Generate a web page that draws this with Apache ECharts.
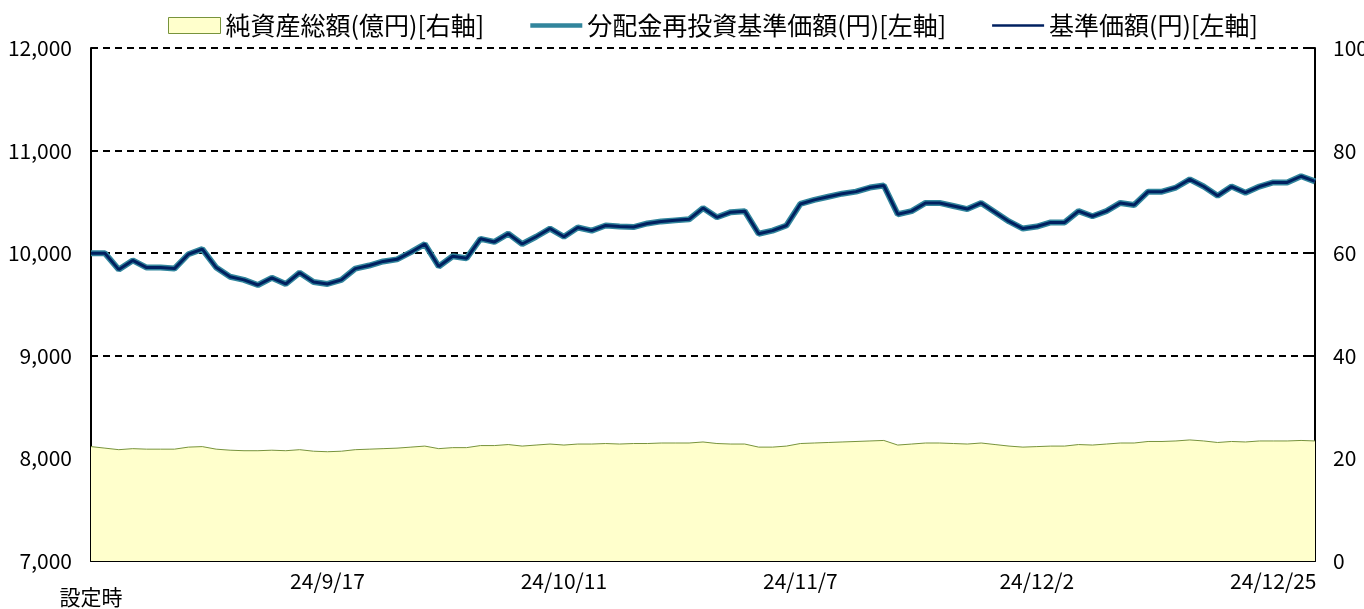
<!DOCTYPE html>
<html>
<head>
<meta charset="utf-8">
<script src="https://cdn.jsdelivr.net/npm/echarts@6/dist/echarts.min.js"></script>
<style>
  html, body { margin: 0; padding: 0; background: #fff; }
  #main { width: 1364px; height: 609px; }
</style>
</head>
<body>
<div id="main"></div>
<script>
// 日付（設定時 = 24/8/22）
var categories = [
  '設定時','24/8/23','24/8/26','24/8/27','24/8/28','24/8/29','24/8/30','24/9/2','24/9/3','24/9/4',
  '24/9/5','24/9/6','24/9/9','24/9/10','24/9/11','24/9/12','24/9/13','24/9/17','24/9/18','24/9/19',
  '24/9/20','24/9/24','24/9/25','24/9/26','24/9/27','24/9/30','24/10/1','24/10/2','24/10/3','24/10/4',
  '24/10/7','24/10/8','24/10/9','24/10/10','24/10/11','24/10/15','24/10/16','24/10/17','24/10/18','24/10/21',
  '24/10/22','24/10/23','24/10/24','24/10/25','24/10/28','24/10/29','24/10/30','24/10/31','24/11/1','24/11/5',
  '24/11/6','24/11/7','24/11/8','24/11/11','24/11/12','24/11/13','24/11/14','24/11/15','24/11/18','24/11/19',
  '24/11/20','24/11/21','24/11/22','24/11/25','24/11/26','24/11/27','24/11/28','24/11/29','24/12/2','24/12/3',
  '24/12/4','24/12/5','24/12/6','24/12/9','24/12/10','24/12/11','24/12/12','24/12/13','24/12/16','24/12/17',
  '24/12/18','24/12/19','24/12/20','24/12/23','24/12/24','24/12/25','24/12/26','24/12/27','24/12/30'
];

// 基準価額（円）
var navValues = [
  10000,10000,9840,9930,9860,9860,9850,9990,10040,9860,
  9770,9740,9690,9760,9700,9810,9720,9700,9740,9850,
  9880,9920,9940,10010,10090,9870,9970,9950,10140,10110,
  10190,10090,10160,10240,10160,10250,10220,10270,10260,10255,
  10290,10310,10320,10330,10440,10350,10400,10410,10190,10220,
  10270,10480,10520,10550,10580,10600,10640,10660,10380,10410,
  10490,10490,10460,10430,10490,10400,10310,10240,10260,10300,
  10300,10410,10360,10410,10490,10470,10600,10600,10640,10720,
  10650,10560,10650,10590,10650,10690,10690,10750,10700
];

// 分配金再投資基準価額（円） 分配なしのため基準価額と同じ
var reinvValues = navValues.slice();

// 純資産総額（億円）
var assetValues = [
  22.3,22.0,21.7,21.9,21.8,21.8,21.8,22.2,22.3,21.8,
  21.6,21.5,21.5,21.6,21.5,21.7,21.4,21.3,21.4,21.7,
  21.8,21.9,22.0,22.2,22.4,21.9,22.1,22.1,22.5,22.5,
  22.7,22.4,22.6,22.8,22.6,22.8,22.8,22.9,22.8,22.9,
  22.9,23.0,23.0,23.0,23.2,22.9,22.8,22.8,22.2,22.2,
  22.4,22.9,23.0,23.1,23.2,23.3,23.4,23.5,22.6,22.8,
  23.0,23.0,22.9,22.8,23.0,22.7,22.4,22.2,22.3,22.4,
  22.4,22.7,22.6,22.8,23.0,23.0,23.3,23.3,23.4,23.6,
  23.4,23.1,23.3,23.2,23.4,23.4,23.4,23.5,23.4
];

var labelStep = 17;
var fontFamily = '"Noto Sans CJK JP", sans-serif';

var myChart = echarts.init(document.getElementById('main'));
var option = {
  animation: false,
  textStyle: { fontFamily: fontFamily },
  legend: {
    left: 163,
    top: 8,
    itemGap: 46,
    itemWidth: 52,
    itemHeight: 16,
    textStyle: { fontSize: 25, color: '#000', fontFamily: fontFamily },
    data: [
      { name: '純資産総額(億円)[右軸]', icon: 'rect',
        itemStyle: { color: '#FFFFCC', borderColor: '#77933C', borderWidth: 1 } },
      { name: '分配金再投資基準価額(円)[左軸]', icon: 'path://M0,0H60V5H0Z',
        itemStyle: { color: '#31859C' } },
      { name: '基準価額(円)[左軸]', icon: 'path://M0,0H60V3H0Z',
        itemStyle: { color: '#002060' } }
    ]
  },
  grid: { left: 91, right: 49, top: 48, bottom: 48, outerBoundsMode: 'none' },
  xAxis: {
    type: 'category',
    boundaryGap: false,
    data: categories,
    axisLine: { lineStyle: { color: '#000', width: 2 } },
    axisTick: {
      inside: true, length: 6,
      lineStyle: { color: '#000', width: 2 },
      interval: function (idx) { return idx > 0 && idx % labelStep === 0; }
    },
    axisLabel: {
      interval: function (idx) { return idx % labelStep === 0; },
      margin: 10,
      fontSize: 21,
      color: '#000',
      formatter: function (v, idx) { return idx === 0 ? '{s|' + v + '}' : v; },
      rich: { s: { fontSize: 21, color: '#000', padding: [16, 0, 0, 0] } }
    }
  },
  yAxis: [{
    type: 'value',
    min: 7000, max: 12000, interval: 1000,
    axisLine: { show: true, lineStyle: { color: '#000', width: 2 } },
    axisTick: { show: true, inside: true, length: 5, lineStyle: { color: '#000', width: 2 } },
    axisLabel: {
      margin: 19, fontSize: 21, color: '#000',
      formatter: function (v) { return v.toLocaleString('en-US'); }
    },
    splitLine: { show: true, lineStyle: { color: '#000', width: 2, type: [7, 5] } }
  }, {
    type: 'value',
    min: 0, max: 100, interval: 20,
    axisLine: { show: true, lineStyle: { color: '#000', width: 2 } },
    axisTick: { show: true, inside: true, length: 5, lineStyle: { color: '#000', width: 2 } },
    axisLabel: { margin: 18, fontSize: 21, color: '#000' },
    splitLine: { show: false }
  }],
  series: [
    {
      name: '純資産総額(億円)[右軸]',
      type: 'line',
      yAxisIndex: 1,
      data: assetValues,
      symbol: 'none',
      lineStyle: { color: '#77933C', width: 1 },
      itemStyle: { color: '#FFFFCC' },
      areaStyle: { color: '#FFFFCC', opacity: 1 },
      z: 1
    },
    {
      name: '分配金再投資基準価額(円)[左軸]',
      type: 'line',
      data: reinvValues,
      symbol: 'none',
      lineStyle: { color: '#31859C', width: 6 },
      itemStyle: { color: '#31859C' },
      z: 2
    },
    {
      name: '基準価額(円)[左軸]',
      type: 'line',
      data: navValues,
      symbol: 'none',
      lineStyle: { color: '#002060', width: 3 },
      itemStyle: { color: '#002060' },
      z: 3
    }
  ]
};
myChart.setOption(option);
window.addEventListener('resize', myChart.resize);
</script>
</body>
</html>
